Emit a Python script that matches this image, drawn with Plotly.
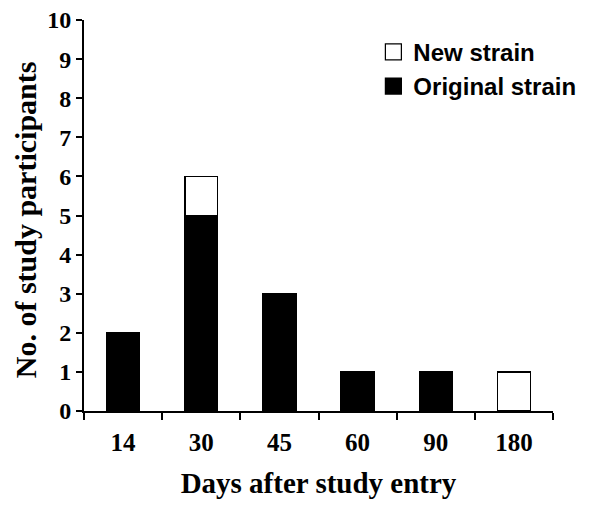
import plotly.graph_objects as go

days = ["14", "30", "45", "60", "90", "180"]
original_strain = [2, 5, 3, 1, 1, 0]
new_strain = [0, 1, 0, 0, 0, 1]
y_ticks = list(range(0, 11))
y_title = "No. of study participants"

fig = go.Figure()
fig.add_trace(go.Bar(x=days, y=original_strain, name="Original strain", showlegend=False,
                     marker=dict(color="black", line=dict(color="black", width=1.5))))
fig.add_trace(go.Bar(x=days, y=new_strain, name="New strain", showlegend=False,
                     marker=dict(color="white", line=dict(color="black", width=1.5))))
# legend entries with larger square symbols
fig.add_trace(go.Scatter(x=[None], y=[None], mode="markers", name="New strain",
                         marker=dict(symbol="square", size=16, color="white",
                                     line=dict(color="black", width=1.2))))
fig.add_trace(go.Scatter(x=[None], y=[None], mode="markers", name="Original strain",
                         marker=dict(symbol="square", size=16, color="black",
                                     line=dict(color="black", width=1.2))))

fig.add_annotation(text=y_title, xref="paper", yref="paper", x=-0.124, y=0.49,
                   xanchor="center", yanchor="middle", textangle=-90, showarrow=False,
                   font=dict(family="Liberation Serif", size=30, weight="bold",
                             color="black"))

fig.update_layout(
    width=601, height=511,
    barmode="stack", bargap=0.58,
    plot_bgcolor="white", paper_bgcolor="white",
    margin=dict(l=76, r=56, t=12, b=108),
    font=dict(family="Liberation Serif", color="black"),
    legend=dict(x=0.617, y=0.975, xanchor="left", yanchor="top",
                traceorder="normal",
                font=dict(family="Liberation Sans", size=24, color="black",
                          weight="bold"),
                bgcolor="rgba(0,0,0,0)", itemwidth=30, tracegroupgap=0),
    xaxis=dict(
        type="category", showline=True, linecolor="black", linewidth=2,
        ticks="outside", tickson="boundaries", ticklen=7, tickwidth=2,
        tickcolor="black", ticklabelstandoff=8, automargin=False,
        ticklabeloverflow="allow",
        tickfont=dict(family="Liberation Serif", size=25, weight="bold"),
        title=dict(text="Days after study entry", standoff=18,
                   font=dict(family="Liberation Serif", size=29, weight="bold")),
        showgrid=False, zeroline=False,
    ),
    yaxis=dict(
        range=[0, 10], tickvals=y_ticks, showline=True, linecolor="black",
        linewidth=2, ticks="outside", ticklen=6, tickwidth=2, tickcolor="black",
        automargin=False, ticklabeloverflow="allow",
        tickfont=dict(family="Liberation Serif", size=24, weight="bold"),
        showgrid=False, zeroline=False,
    ),
)

fig.write_html("out.html")
